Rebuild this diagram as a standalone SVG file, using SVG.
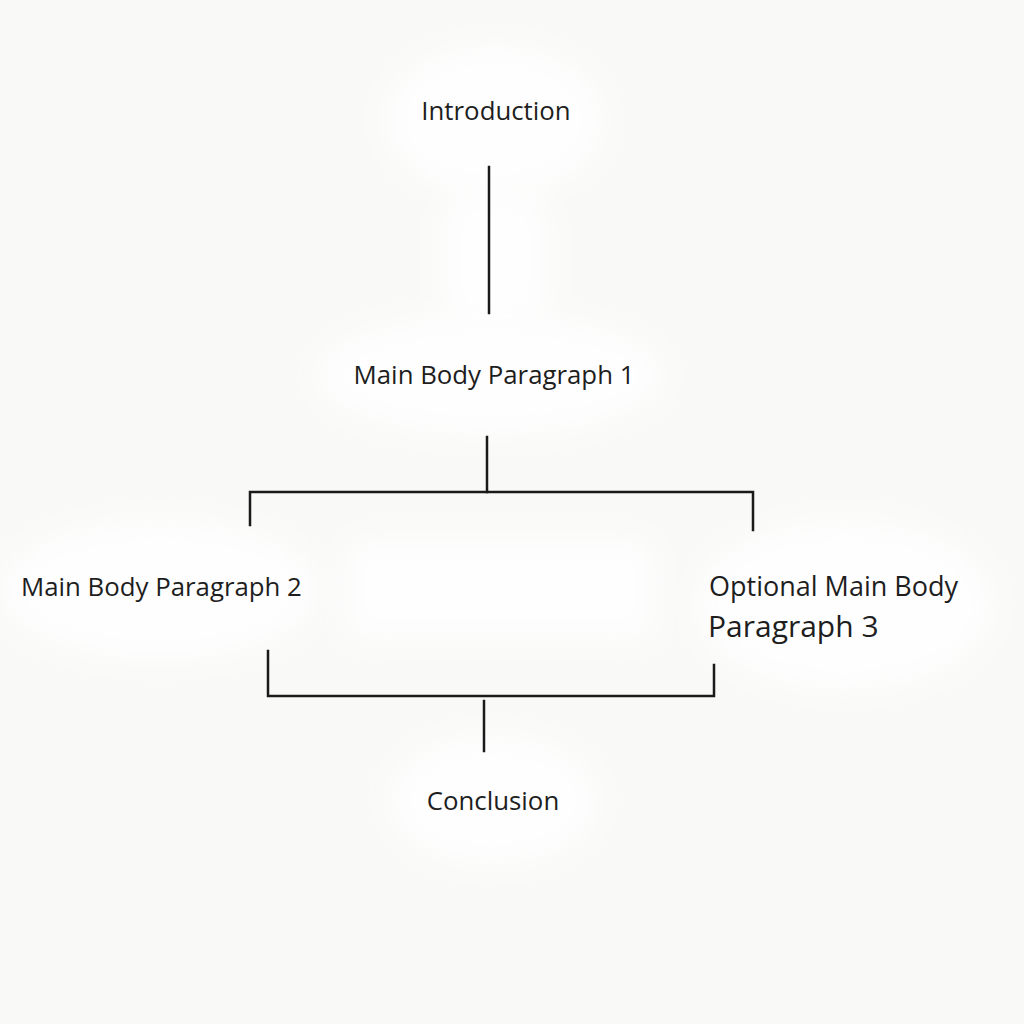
<svg xmlns="http://www.w3.org/2000/svg" width="1024" height="1024" viewBox="0 0 1024 1024">
<defs>
<filter id="soft" x="-50%" y="-50%" width="200%" height="200%"><feGaussianBlur stdDeviation="16"/></filter>
<style>
.bg{fill:#f9f9f8}
.blob{fill:#fefefe;filter:url(#soft)}
.lbl{font-family:"Open Sans","Noto Sans","Liberation Sans",sans-serif;font-size:25.8px;fill:#1e1e1e}
.conn{stroke:#1a1a1a;stroke-width:2.5;fill:none;stroke-linecap:square}
</style>
</defs>
<rect class="bg" x="0" y="0" width="1024" height="1024"/>
<g id="blobs">
<ellipse class="blob" cx="494" cy="120" rx="110" ry="75"/>
<rect class="blob" x="440" y="190" width="110" height="140" rx="40"/>
<ellipse class="blob" cx="490" cy="375" rx="175" ry="60"/>
<ellipse class="blob" cx="160" cy="590" rx="160" ry="70"/>
<ellipse class="blob" cx="845" cy="605" rx="150" ry="85"/>
<rect class="blob" x="345" y="540" width="310" height="100" rx="10"/>
<ellipse class="blob" cx="493" cy="800" rx="105" ry="65"/>
</g>
<g id="connectors">
<line class="conn" x1="489" y1="167" x2="489" y2="313"/>
<line class="conn" x1="487" y1="437" x2="487" y2="492"/>
<polyline class="conn" points="250,525 250,492 753,492 753,530"/>
<polyline class="conn" points="268,651 268,696 714,696 714,665"/>
<line class="conn" x1="484" y1="701" x2="484" y2="751"/>
</g>
<g id="intro"><text class="lbl" x="496" y="120" text-anchor="middle">Introduction</text></g>
<g id="mbp1"><text class="lbl" x="494" y="384" text-anchor="middle">Main Body Paragraph 1</text></g>
<g id="mbp2"><text class="lbl" x="21" y="596">Main Body Paragraph 2</text></g>
<g id="mbp3"><text class="lbl" x="709" y="596" style="font-size:27px">Optional Main Body</text><text class="lbl" x="708" y="637" style="font-size:30px">Paragraph 3</text></g>
<g id="conclusion"><text class="lbl" x="493" y="810" text-anchor="middle">Conclusion</text></g>
</svg>
